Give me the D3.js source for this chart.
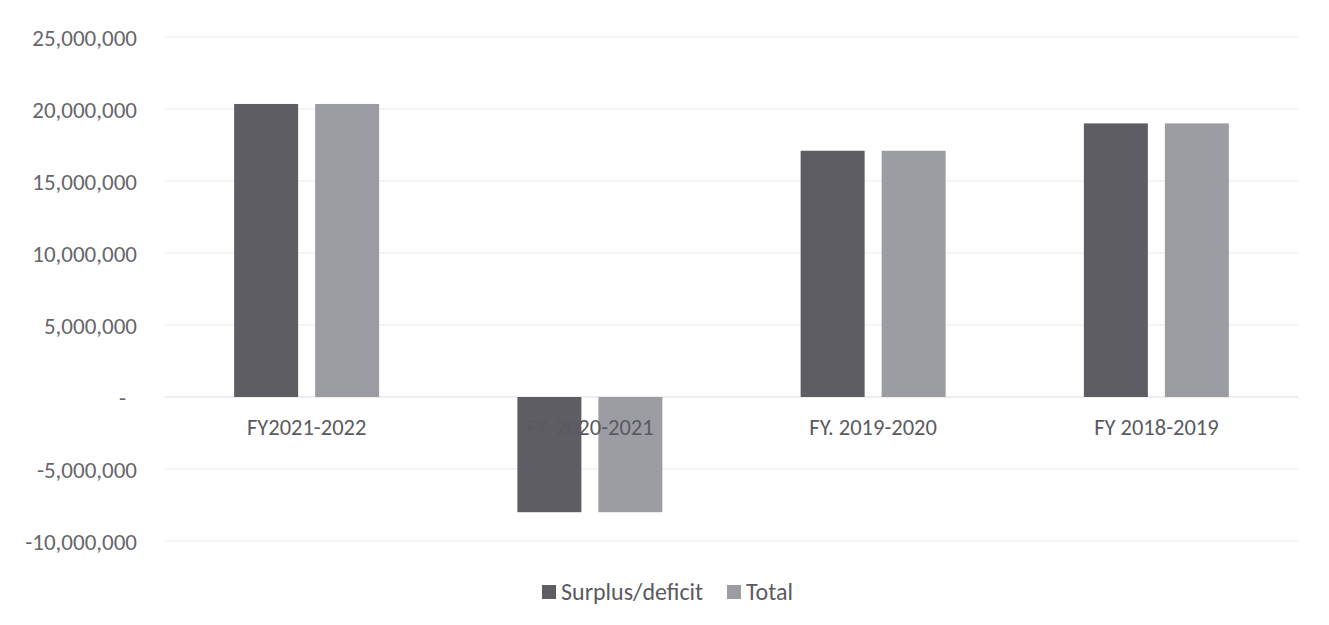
<!DOCTYPE html>
<html><head><meta charset="utf-8">
<script src="https://cdn.jsdelivr.net/npm/d3@7"></script>
<style>body{margin:0;background:#fff}</style>
</head><body>
<svg id="c" width="1329" height="625"></svg>
<script>
const categories = ["FY2021-2022", "FY. 2020-2021", "FY. 2019-2020", "FY 2018-2019"];
const seriesNames = ["Surplus/deficit", "Total"];
const surplus = [20350000, -8000000, 17100000, 19000000];
const total = [20350000, -8000000, 17100000, 19000000];
const tickValues = [-10000000, -5000000, 0, 5000000, 10000000, 15000000, 20000000, 25000000];
const colors = ["#5d5d63", "#9c9ca3"];

(function(){
const svg = d3.select("#c");
const FONT = "Carlito, Lato, 'Open Sans', sans-serif";
const pl = 165, pr = 1298, pt = 37, pb = 541;
const y = d3.scaleLinear().domain([-10000000, 25000000]).range([pb, pt]);
const x0 = d3.scaleBand().domain(categories).range([pl, pr]).padding(0);
const groupW = 145;
const x1 = d3.scaleBand().domain(seriesNames).range([0, groupW]).paddingInner(17/81).paddingOuter(0);

const fmt = v => v === 0 ? "-" : d3.format(",")(v).replace("−", "-");

svg.append("g").selectAll("line").data(tickValues).join("line")
  .attr("x1", pl).attr("x2", pr)
  .attr("y1", d => y(d)).attr("y2", d => y(d))
  .attr("stroke", d => d === 0 ? "#dcdce2" : "#ebebf0").attr("stroke-width", 1);

const yAxis = d3.axisLeft(y).tickValues(tickValues).tickFormat(fmt).tickSize(0).tickPadding(0);
const gy = svg.append("g").attr("transform", "translate(137,0)").call(yAxis);
gy.select(".domain").remove();
gy.selectAll("text").attr("font-family", FONT).attr("font-size", 23).attr("fill", "#66666d")
  .attr("dy", "0.35em").attr("x", d => d === 0 ? -11 : 0);

const data = categories.map((c, i) => ({c, vals: [surplus[i], total[i]]}));
const off = (x0.bandwidth() - groupW) / 2;
const g = svg.append("g").selectAll("g").data(data).join("g")
  .attr("transform", d => `translate(${x0(d.c) + off},0)`);
g.selectAll("rect").data(d => d.vals.map((v, j) => ({v, s: seriesNames[j], j}))).join("rect")
  .attr("x", d => x1(d.s)).attr("width", x1.bandwidth())
  .attr("y", d => y(Math.max(0, d.v))).attr("height", d => Math.abs(y(d.v) - y(0)))
  .attr("fill", d => colors[d.j]);

const xAxis = d3.axisBottom(x0).tickSize(0).tickPadding(0);
const gx = svg.append("g").attr("transform", `translate(0,${y(0)})`).call(xAxis);
gx.select(".domain").remove();
gx.selectAll("text").attr("font-family", FONT).attr("font-size", 22.5).attr("fill", "#5a5a61")
  .attr("dy", 0).attr("y", 38);

const leg = svg.append("g");
const items = [{n: seriesNames[0], x: 542, c: colors[0]}, {n: seriesNames[1], x: 727, c: colors[1]}];
items.forEach(it => {
  leg.append("rect").attr("x", it.x).attr("y", 585).attr("width", 14).attr("height", 14).attr("fill", it.c);
  leg.append("text").attr("x", it.x + 19).attr("y", 592).attr("dy", "0.35em")
    .attr("font-family", FONT).attr("font-size", 24).attr("fill", "#5a5a61").text(it.n);
});
})();
</script>
</body></html>
